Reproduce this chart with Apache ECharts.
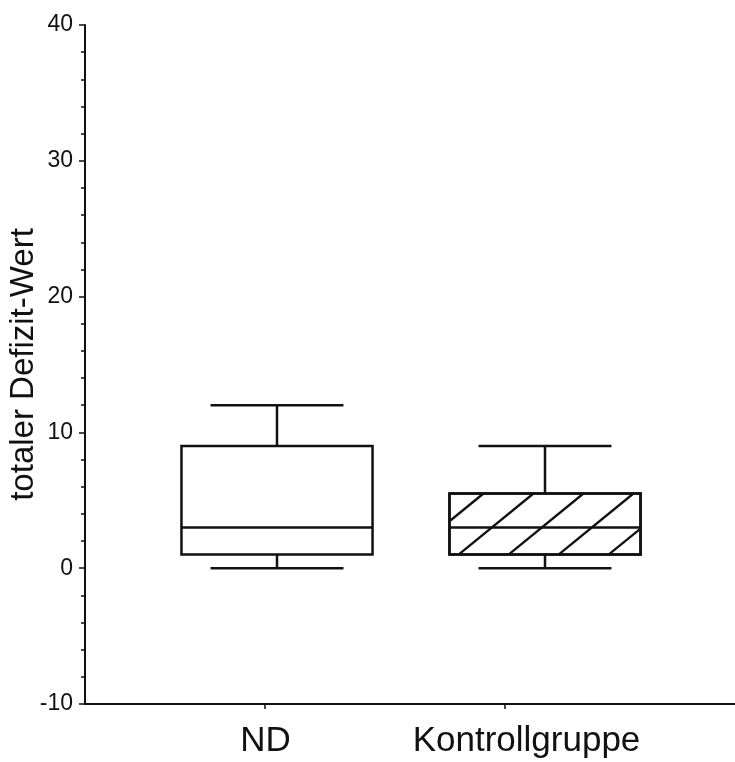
<!DOCTYPE html>
<html>
<head>
<meta charset="utf-8">
<script src="https://cdn.jsdelivr.net/npm/echarts@6/dist/echarts.min.js"></script>
<style>
html,body{margin:0;padding:0;background:#fff;}
#chart{width:735px;height:762px;}
</style>
</head>
<body>
<div id="chart"></div>
<script>
const categories = ['ND', 'Kontrollgruppe'];
const whiskerLow = [0, 0];
const q1 = [1, 1];
const median = [3, 3];
const q3 = [9, 5.5];
const whiskerHigh = [12, 9];
const hatched = [0, 1];
const yTicks = { min: -10, max: 40, interval: 10 };
const yTitle = 'totaler Defizit-Wert';

const FONT = '"Liberation Sans", Arial, sans-serif';
const INK = '#111';

const boxData = categories.map((c, i) => [i, whiskerLow[i], q1[i], median[i], q3[i], whiskerHigh[i], hatched[i]]);

function renderBox(params, api) {
  const i = api.value(0);
  const band = api.size([1, 0])[0];
  const xc = api.coord([i, 0])[0];
  const boxW = band * 0.713;
  const capW = band * 0.496;
  const yLow = api.coord([i, api.value(1)])[1];
  const yQ1 = api.coord([i, api.value(2)])[1];
  const yMed = api.coord([i, api.value(3)])[1];
  const yQ3 = api.coord([i, api.value(4)])[1];
  const yHigh = api.coord([i, api.value(5)])[1];
  const xl = xc - boxW / 2, xr = xc + boxW / 2;
  const st = { stroke: INK, lineWidth: 2.5, fill: null };
  const children = [];
  children.push({ type: 'line', shape: { x1: xc, y1: yQ3, x2: xc, y2: yHigh }, style: st });
  children.push({ type: 'line', shape: { x1: xc - capW / 2, y1: yHigh, x2: xc + capW / 2, y2: yHigh }, style: st });
  children.push({ type: 'line', shape: { x1: xc, y1: yQ1, x2: xc, y2: yLow }, style: st });
  children.push({ type: 'line', shape: { x1: xc - capW / 2, y1: yLow, x2: xc + capW / 2, y2: yLow }, style: st });
  children.push({ type: 'rect', shape: { x: xl, y: yQ3, width: boxW, height: yQ1 - yQ3 }, style: { stroke: INK, lineWidth: 2.5, fill: '#fff' } });
  if (api.value(6)) {
    const s = 0.816, step = 50, off = 34;
    const h = yQ1 - yQ3;
    for (let k = -10; k < 30; k++) {
      const xt = xl + off + k * step;
      const lo = Math.max(xl, xt - h / s);
      const hi = Math.min(xr, xt);
      if (hi - lo > 1) {
        children.push({ type: 'line', shape: { x1: lo, y1: yQ3 + (xt - lo) * s, x2: hi, y2: yQ3 + (xt - hi) * s }, style: { stroke: INK, lineWidth: 2.3 } });
      }
    }
    children.push({ type: 'rect', shape: { x: xl, y: yQ3, width: boxW, height: yQ1 - yQ3 }, style: { stroke: INK, lineWidth: 2.5, fill: null } });
  }
  children.push({ type: 'line', shape: { x1: xl, y1: yMed, x2: xr, y2: yMed }, style: st });
  return { type: 'group', children };
}

const chart = echarts.init(document.getElementById('chart'), null, { renderer: 'canvas' });
const hiddenY = { type: 'value', min: yTicks.min, max: yTicks.max, interval: yTicks.interval, show: false };
chart.setOption({
  backgroundColor: '#fff',
  animation: false,
  textStyle: { fontFamily: FONT },
  grid: [
    { left: 85, right: 0, top: 25, bottom: 58, containLabel: false, outerBoundsMode: 'none' },
    { left: 145, width: 480, top: 25, bottom: 58, containLabel: false, outerBoundsMode: 'none' },
    { left: 143, width: 536, top: 25, bottom: 58, containLabel: false, outerBoundsMode: 'none' },
    { left: 135, width: 522, top: 25, bottom: 58, containLabel: false, outerBoundsMode: 'none' }
  ],
  xAxis: [
    { gridIndex: 0, type: 'value', min: 0, max: 1,
      axisLine: { show: true, onZero: false, lineStyle: { color: INK, width: 2 } },
      axisTick: { show: false }, axisLabel: { show: false }, splitLine: { show: false } },
    { gridIndex: 1, type: 'category', data: categories,
      axisLine: { show: false, onZero: false },
      axisTick: { show: true, alignWithLabel: true, length: 5, lineStyle: { color: INK, width: 1.5 } },
      axisLabel: { show: false },
      splitLine: { show: false } },
    { gridIndex: 2, type: 'category', data: categories, show: false },
    { gridIndex: 3, type: 'category', data: categories,
      axisLine: { show: false, onZero: false },
      axisTick: { show: false },
      axisLabel: { interval: 0, fontSize: 35, color: INK, margin: 20, fontFamily: FONT, hideOverlap: false },
      splitLine: { show: false } }
  ],
  yAxis: [
    { gridIndex: 0, type: 'value', min: yTicks.min, max: yTicks.max, interval: yTicks.interval,
      name: yTitle, nameLocation: 'middle', nameRotate: 90, nameGap: 45, nameMoveOverlap: false,
      nameTextStyle: { fontSize: 33, color: INK, fontFamily: FONT },
      axisLine: { show: true, lineStyle: { color: INK, width: 2 } },
      axisTick: { show: true, length: 6, lineStyle: { color: INK, width: 1.5 } },
      minorTick: { show: true, splitNumber: 5, length: 4, lineStyle: { color: INK, width: 1.5 } },
      axisLabel: { fontSize: 23, color: INK, margin: 12, fontFamily: FONT },
      splitLine: { show: false } },
    Object.assign({ gridIndex: 1 }, hiddenY),
    Object.assign({ gridIndex: 2 }, hiddenY),
    Object.assign({ gridIndex: 3 }, hiddenY)
  ],
  series: [{
    type: 'custom',
    xAxisIndex: 2, yAxisIndex: 2,
    renderItem: renderBox,
    encode: { x: 0, y: [1, 2, 3, 4, 5] },
    data: boxData,
    clip: false
  }]
});
</script>
</body>
</html>
